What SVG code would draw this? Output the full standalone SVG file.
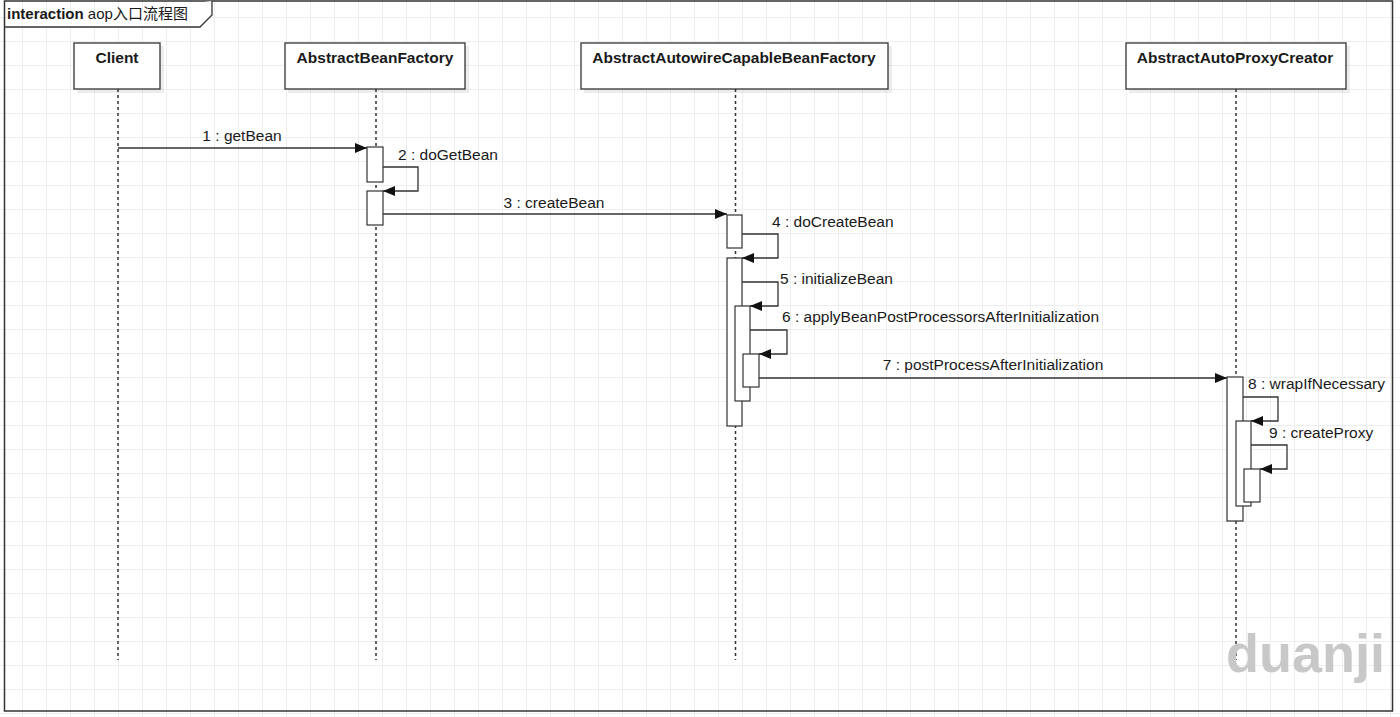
<svg xmlns="http://www.w3.org/2000/svg" width="1400" height="717" viewBox="0 0 1400 717">
<style>
.lbl{font-family:"Liberation Sans",Arial,sans-serif;font-size:15.5px;fill:#1a1a1a}
.hdr{font-family:"Liberation Sans",Arial,sans-serif;font-size:15.5px;font-weight:bold;fill:#1a1a1a;text-anchor:middle}
.box{fill:#fff;stroke:#333;stroke-width:1.3}
.shadow{fill:#000;opacity:0.07}
.life{stroke:#333;stroke-width:1.5;stroke-dasharray:3 3;fill:none}
.bar{fill:#fff;stroke:#333;stroke-width:1.2}
.msg{stroke:#333;stroke-width:1.3;fill:none;marker-end:url(#arr)}
</style>
<defs>
<pattern id="grid" x="22" y="17" width="24" height="24" patternUnits="userSpaceOnUse">
<rect x="0" y="0" width="24" height="1" fill="#eeeeee"/>
<rect x="0" y="0" width="1" height="24" fill="#eeeeee"/>
</pattern>
<marker id="arr" markerWidth="12" markerHeight="10" refX="12" refY="5" orient="auto" markerUnits="userSpaceOnUse">
<path d="M0,0 L12,5 L0,10 z" fill="#111"/>
</marker>
</defs>
<rect width="1400" height="717" fill="#fff"/>
<rect width="1400" height="717" fill="url(#grid)"/>

<g id="frame">
<rect x="4.5" y="1" width="1388" height="710" fill="none" stroke="#333" stroke-width="1.5"/>
<path d="M4.5,27 H200 L212,15 V1" fill="#fff" stroke="#333" stroke-width="1.3"/>
<text x="7" y="19" font-family="'Liberation Sans','Noto Sans CJK SC',sans-serif" font-size="15" fill="#1a1a1a"><tspan font-weight="bold">interaction</tspan> aop入口流程图</text>
</g>

<g id="client">
<rect class="shadow" x="77" y="46" width="87" height="47"/>
<rect class="box" x="74" y="43" width="86" height="46"/>
<text class="hdr" x="117" y="63">Client</text>
<line class="life" x1="118" y1="89" x2="118" y2="660"/>
</g>

<g id="abstractBeanFactory">
<rect class="shadow" x="288" y="46" width="181" height="47"/>
<rect class="box" x="285" y="43" width="180" height="46"/>
<text class="hdr" x="375" y="63">AbstractBeanFactory</text>
<line class="life" x1="376" y1="89" x2="376" y2="660"/>
<rect class="bar" x="367" y="147" width="16" height="35"/>
<rect class="bar" x="367" y="191" width="16" height="34"/>
</g>

<g id="abstractAutowireCapableBeanFactory">
<rect class="shadow" x="584" y="46" width="308" height="47"/>
<rect class="box" x="581" y="43" width="307" height="46"/>
<text class="hdr" x="734" y="63">AbstractAutowireCapableBeanFactory</text>
<line class="life" x1="735.5" y1="89" x2="735.5" y2="660"/>
<rect class="bar" x="727" y="215" width="15" height="33"/>
<rect class="bar" x="727" y="258" width="15" height="168"/>
<rect class="bar" x="735" y="306" width="15" height="95"/>
<rect class="bar" x="743" y="354" width="16" height="33"/>
</g>

<g id="abstractAutoProxyCreator">
<rect class="shadow" x="1129" y="46" width="221" height="47"/>
<rect class="box" x="1126" y="43" width="220" height="46"/>
<text class="hdr" x="1235" y="63">AbstractAutoProxyCreator</text>
<line class="life" x1="1236" y1="89" x2="1236" y2="660"/>
<rect class="bar" x="1227" y="377" width="16" height="144"/>
<rect class="bar" x="1236" y="421" width="15" height="85"/>
<rect class="bar" x="1244" y="469" width="16" height="33"/>
</g>

<g id="connectors">
<line class="msg" x1="118" y1="148" x2="367" y2="148"/>
<text class="lbl" x="242" y="141" text-anchor="middle">1 : getBean</text>
<polyline class="msg" points="383,167 418,167 418,191 383,191"/>
<text class="lbl" x="398" y="160">2 : doGetBean</text>
<line class="msg" x1="383" y1="214" x2="727" y2="214"/>
<text class="lbl" x="554" y="208" text-anchor="middle">3 : createBean</text>
<polyline class="msg" points="742,234 778,234 778,258 742,258"/>
<text class="lbl" x="772" y="227">4 : doCreateBean</text>
<polyline class="msg" points="742,282 778,282 778,306 750,306"/>
<text class="lbl" x="780" y="284">5 : initializeBean</text>
<polyline class="msg" points="750,330 787,330 787,354 759,354"/>
<text class="lbl" x="782" y="322">6 : applyBeanPostProcessorsAfterInitialization</text>
<line class="msg" x1="759" y1="378" x2="1227" y2="378"/>
<text class="lbl" x="993" y="370" text-anchor="middle">7 : postProcessAfterInitialization</text>
<polyline class="msg" points="1243,397 1278,397 1278,421 1251,421"/>
<text class="lbl" x="1248" y="389">8 : wrapIfNecessary</text>
<polyline class="msg" points="1251,445 1287,445 1287,469 1260,469"/>
<text class="lbl" x="1269" y="438">9 : createProxy</text>
</g>

<text x="1226" y="672" font-family="'Liberation Sans',Arial,sans-serif" font-weight="bold" font-size="54" fill="#c8c8c8">duanji</text>
</svg>
